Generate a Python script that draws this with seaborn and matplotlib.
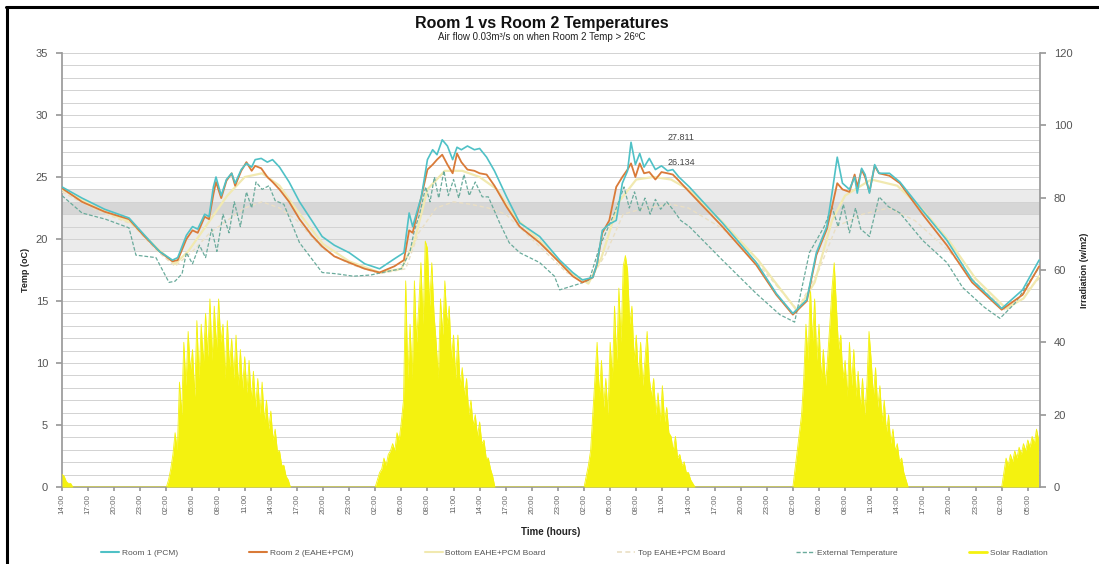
import numpy as np
import matplotlib
matplotlib.use("Agg")
import matplotlib.pyplot as plt
from matplotlib.lines import Line2D
import seaborn as sns

# ---------------- data (hours from 14:00 on day 1) ----------------
room1_t = [0, 2.3, 4.9, 7.7, 9.5, 11.2, 12.7, 13.3, 14.3, 15.0, 15.6, 16.4, 16.9, 17.4, 17.7, 18.3,
           18.9, 19.5, 19.9, 20.6, 21.2, 21.8, 22.2, 22.9, 23.6, 24.2, 25.0, 26.1, 27.3, 28.7, 29.9,
           31.3, 33.0, 34.8, 36.5, 38.2, 39.3, 39.9, 40.3, 41.3, 42.0, 42.6, 43.1, 43.7, 44.3, 44.9,
           45.4, 45.9, 46.6, 47.4, 48.0, 48.8, 49.7, 51.1, 52.6, 54.9, 57.2, 58.7, 59.8, 61.0, 61.5,
           62.1, 62.9, 63.7, 64.4, 65.0, 65.4, 65.9, 66.4, 66.9, 67.5, 68.2, 68.9, 69.6, 70.2, 70.9,
           72.1, 75.9, 79.8, 82.1, 84.0, 85.6, 86.7, 87.9, 88.5, 89.1, 89.7, 90.5, 91.1, 91.4, 91.9,
           92.3, 92.8, 93.4, 93.9, 95.1, 96.3, 98.9, 101.7, 104.6, 108.0, 110.4, 112.3]
room1_v = [24.2, 23.3, 22.4, 21.7, 20.3, 19.0, 18.3, 18.5, 20.3, 21.0, 20.8, 22.0, 21.8, 24.2, 25.0, 23.5,
           24.8, 25.3, 24.5, 25.6, 26.1, 25.8, 26.4, 26.5, 26.2, 26.4, 25.8, 24.6, 23.0, 21.5, 20.2,
           19.5, 18.9, 18.0, 17.6, 18.4, 18.9, 22.1, 21.0, 23.4, 26.4, 27.2, 26.8, 28.0, 27.5, 26.4,
           27.4, 27.2, 27.5, 27.2, 27.3, 26.6, 25.5, 23.4, 21.3, 20.2, 18.3, 17.3, 16.7, 16.9, 18.0,
           20.7, 21.2, 21.5, 24.5, 25.5, 27.8, 26.0, 26.9, 25.8, 26.5, 25.6, 25.9, 25.5, 25.6, 25.0,
           24.2, 21.3, 18.1, 15.6, 14.0, 15.1, 18.9, 21.0, 23.7, 26.6, 24.5, 24.0, 25.0, 23.7, 25.7,
           25.2, 23.7, 26.0, 25.3, 25.3, 24.6, 22.3, 19.9, 16.7, 14.4, 15.9, 18.3]

room2_t = room1_t
room2_v = [24.1, 23.0, 22.2, 21.6, 20.2, 19.0, 18.2, 18.3, 20.0, 20.7, 20.5, 21.8, 21.6, 23.6, 24.6, 23.3,
           24.7, 25.3, 24.3, 25.5, 26.2, 25.5, 25.9, 25.7, 25.0, 24.6, 24.0, 23.0, 21.6, 20.3, 19.4,
           18.6, 18.1, 17.6, 17.3, 17.8, 18.3, 20.7, 20.5, 23.4, 25.6, 26.0, 26.4, 26.8, 26.0, 25.3,
           26.9, 26.2, 25.6, 25.5, 25.3, 25.2, 24.3, 22.6, 21.0, 19.7, 18.1, 17.0, 16.5, 16.9, 18.0,
           20.5, 21.5, 24.2, 25.0, 25.6, 26.1, 25.0, 26.1, 25.3, 25.4, 24.8, 25.4, 25.3, 25.2, 24.7,
           23.8, 21.0, 17.9, 15.5, 13.9, 15.0, 18.7, 20.8, 22.6, 24.5, 24.0, 23.8, 25.2, 24.2, 25.6,
           25.0, 23.8, 25.9, 25.3, 25.1, 24.5, 22.0, 19.5, 16.5, 14.3, 15.5, 17.8]

bottom_t = [0, 4, 8, 11, 13, 14.5, 17, 19, 21, 23, 25, 27, 30, 33, 36.5, 39, 40.5, 42, 44, 46, 48, 50,
            52, 55, 58, 60.5, 62, 64, 66, 68, 70, 72, 76, 80, 84.5, 86.5, 88.5, 90, 93, 96, 99, 102,
            105, 108.5, 110.5, 112.3]
bottom_v = [24.0, 22.5, 21.3, 19.2, 18.0, 19.0, 21.5, 23.5, 25.0, 25.3, 24.3, 22.3, 19.6, 18.2, 17.3,
            17.6, 19.8, 24.0, 25.5, 25.5, 25.0, 24.0, 21.8, 19.8, 17.5, 16.4, 18.5, 23.0, 24.8, 25.0,
            24.8, 24.0, 21.3, 18.3, 14.2, 16.5, 21.5, 23.5, 24.8, 24.3, 22.3, 19.8, 16.8, 14.4, 15.2, 17.0]

top_t = [0, 4, 8, 11, 13, 15, 17, 19, 21, 23, 25, 27, 30, 33, 36.5, 39.5, 41, 43, 45, 47, 49, 51, 54,
         58, 60.5, 62.5, 64.5, 67, 70, 72, 76, 80, 84.5, 87, 89, 92, 95, 98, 102, 105, 108.5, 112.3]
top_v = [23.8, 22.3, 21.2, 19.0, 17.8, 19.0, 20.5, 21.5, 22.5, 23.0, 22.5, 21.5, 19.2, 18.0, 17.2, 17.6,
         20.5, 22.5, 23.0, 22.8, 22.5, 22.0, 20.0, 17.3, 16.5, 18.8, 22.0, 22.5, 22.8, 22.5, 20.8, 18.0,
         14.3, 17.5, 21.0, 22.0, 22.5, 21.5, 19.0, 16.5, 14.2, 16.8]

ext_t = [0, 2.3, 5, 7.7, 8.5, 10.8, 12.3, 13.0, 13.8, 14.3, 15.0, 15.8, 16.5, 17.2, 17.8, 18.5, 19.2,
         19.8, 20.5, 21.2, 21.8, 22.3, 23.0, 23.8, 24.5, 25.5, 27.3, 29.9, 31.5, 33.5, 35.5, 37.5, 39.0,
         40.0, 40.5, 41.1, 41.8, 42.3, 42.8, 43.3, 43.9, 44.4, 45.0, 45.6, 46.2, 46.8, 47.5, 48.3, 49.0,
         50.3, 51.4, 52.6, 54.9, 56.6, 57.2, 59.5, 60.6, 61.8, 63.5, 64.6, 65.2, 65.8, 66.4, 67.0, 67.6,
         68.2, 68.8, 69.5, 70.3, 71.1, 72.1, 75.9, 79.8, 82.5, 84.2, 85.9, 87.6, 88.5, 89.2, 89.8, 90.5,
         91.2, 91.8, 92.8, 93.9, 95.0, 96.3, 98.9, 101.7, 103.5, 106.0, 107.8, 109.5, 112.3]
ext_v = [23.5, 22.1, 21.6, 20.9, 18.7, 18.5, 16.5, 16.6, 17.2, 18.9, 18.0, 19.5, 18.5, 20.8, 19.0, 22.0,
         20.5, 23.0, 21.0, 23.8, 22.5, 24.6, 24.0, 24.3, 23.1, 22.8, 19.7, 17.3, 17.2, 17.0, 17.1, 17.4,
         17.6, 19.0, 20.7, 22.0, 24.2, 23.0, 25.0, 23.3, 25.5, 23.5, 24.8, 23.3, 25.2, 23.5, 24.6, 23.4,
         23.4, 21.3, 19.7, 18.9, 18.1, 17.0, 15.9, 16.4, 16.7, 19.4, 22.1, 24.2, 22.5, 23.8, 22.2, 23.3,
         22.0, 23.2, 22.4, 23.0, 22.3, 21.5, 21.0, 18.3, 15.6, 13.9, 13.3, 18.9, 21.0, 22.6, 21.0, 22.8,
         20.5, 22.5, 20.8, 20.2, 23.4, 22.6, 22.1, 19.9, 18.1, 16.1, 14.5, 13.6, 14.8, 17.7]

# Solar radiation (w/m2), quarter-hour readings; each burst starts at the given hour
solar_tail_t = [0, 0.25, 0.5, 0.75, 1.0, 1.25]
solar_tail_v = [3.5, 3.0, 1.5, 1.0, 1.0, 0]
solar_start = [12.0, 36.0, 60.0, 84.0, 108.0]
solar_day1 = [0, 2, 5, 9, 15, 10, 29, 20, 40, 28, 43, 32, 38, 25, 46, 30, 45, 34, 48, 36, 52, 35, 50, 38,
              52, 40, 45, 30, 46, 33, 41, 30, 42, 28, 38, 27, 36, 26, 35, 24, 32, 22, 30, 20, 29, 18, 24, 16,
              21, 13, 16, 10, 10, 6, 6, 3, 2, 0]
solar_day2 = [0, 2, 4, 5, 8, 6, 9, 10, 12, 10, 15, 13, 18, 24, 57, 30, 45, 30, 57, 40, 50, 62, 45, 68,
              66, 50, 62, 48, 40, 30, 52, 42, 57, 45, 50, 35, 42, 30, 42, 28, 33, 25, 30, 20, 24, 17, 20, 14,
              18, 12, 13, 8, 8, 5, 3, 0]
solar_day3 = [0, 3, 6, 10, 20, 30, 40, 25, 35, 22, 30, 20, 40, 30, 50, 35, 55, 40, 61, 64, 60, 45, 50, 35,
              42, 30, 40, 28, 35, 43, 30, 25, 30, 20, 26, 18, 28, 18, 22, 15, 14, 10, 14, 8, 9, 6, 7, 4,
              4, 2, 1, 0]
solar_day4 = [0, 5, 10, 15, 20, 30, 45, 35, 56, 40, 52, 35, 45, 30, 38, 28, 36, 45, 55, 62, 50, 38, 42, 30,
              35, 25, 40, 28, 38, 25, 32, 22, 30, 20, 28, 43, 35, 25, 33, 22, 28, 18, 24, 15, 20, 12, 16, 10,
              12, 7, 8, 4, 2, 0]
solar_day5 = [0, 4, 8, 6, 9, 7, 10, 8, 11, 9, 12, 10, 13, 11, 14, 12, 16, 13]

hour_labels = ["14:00", "17:00", "20:00", "23:00",
               "02:00", "05:00", "08:00", "11:00", "14:00", "17:00", "20:00", "23:00",
               "02:00", "05:00", "08:00", "11:00", "14:00", "17:00", "20:00", "23:00",
               "02:00", "05:00", "08:00", "11:00", "14:00", "17:00", "20:00", "23:00",
               "02:00", "05:00", "08:00", "11:00", "14:00", "17:00", "20:00", "23:00",
               "02:00", "05:00"]
peak_labels = ["27.811", "26.134"]
peak_vals = [27.811, 26.134]

# ---------------- styling ----------------
sns.set_theme(style="white")
plt.rcParams['font.family'] = ['Liberation Sans', 'DejaVu Sans']

c_room1 = "#4fc1c6"
c_room2 = "#d97a38"
c_bottom = "#f1e9b0"
c_top = "#eadfc4"
c_ext = "#6aab9c"
c_solar = "#f4f20f"
grey_txt = "#555555"
axis_col = "#9a9a9a"

fig = plt.figure(figsize=(10.99, 5.64), dpi=100)
ax = fig.add_axes([0.0564, 0.1365, 0.8899, 0.7695])
ax2 = ax.twinx()
ax3 = ax.twinx()

# background bands + grid on the left axis
ax.axhspan(19, 24, color="#ebebeb", lw=0, zorder=0)
ax.axhspan(22, 23, color="#d6d6d6", lw=0, zorder=0)
for g in range(1, 36):
    ax.axhline(g, color="#d2d2d2", lw=0.7, zorder=0.5)

# solar radiation on right axis
solar_t = list(solar_tail_t)
solar_v = list(solar_tail_v)
for st, vals in zip(solar_start, [solar_day1, solar_day2, solar_day3, solar_day4, solar_day5]):
    solar_t += [st + 0.25 * i for i in range(len(vals))]
    solar_v += vals
ax2.fill_between(solar_t, 0, solar_v, color=c_solar, lw=0, zorder=1)
ax2.plot(solar_t, solar_v, color=c_solar, lw=0.6)

# temperature lines on the third axis (same 0-35 scale)
sns.lineplot(x=top_t, y=top_v, ax=ax3, color=c_top, lw=1.0, linestyle=(0, (3, 2)), sort=False)
sns.lineplot(x=bottom_t, y=bottom_v, ax=ax3, color=c_bottom, lw=1.6, sort=False)
sns.lineplot(x=ext_t, y=ext_v, ax=ax3, color=c_ext, lw=0.9, linestyle=(0, (3, 1.5)), sort=False)
sns.lineplot(x=room2_t, y=room2_v, ax=ax3, color=c_room2, lw=1.3, sort=False)
sns.lineplot(x=room1_t, y=room1_v, ax=ax3, color=c_room1, lw=1.2, sort=False)

ax3.text(69.6, peak_vals[0], peak_labels[0], fontsize=6.5, color="#444444", va="bottom", ha="left")
ax3.text(69.6, peak_vals[1], peak_labels[1], fontsize=6.5, color="#444444", va="center", ha="left")

xmax = 112.4
for a in (ax, ax2, ax3):
    a.set_xlim(0, xmax)
ax.set_ylim(0, 35)
ax3.set_ylim(0, 35)
ax2.set_ylim(0, 120)

ax3.set_yticks([])
ax3.set_ylabel("")
for s in ax3.spines.values():
    s.set_visible(False)
ax2.spines["top"].set_visible(False)
ax2.spines["left"].set_visible(False)
ax2.spines["bottom"].set_visible(False)
ax2.spines["right"].set_color(axis_col)
ax.spines["top"].set_visible(False)
ax.spines["right"].set_visible(False)
ax.spines["left"].set_color(axis_col)
ax.spines["bottom"].set_color(axis_col)

ax.set_yticks(range(0, 36, 5))
ax.tick_params(axis="y", left=True, length=4, color=axis_col, labelsize=8, labelcolor=grey_txt, pad=6)
ax2.set_yticks(range(0, 121, 20))
ax2.tick_params(axis="y", right=True, length=4, color=axis_col, labelsize=8, labelcolor=grey_txt, pad=6)

xt = [3 * i for i in range(len(hour_labels))]
ax.set_xticks(xt)
ax.set_xticklabels(hour_labels, rotation=90, fontsize=5.8, color="#666666")
ax.tick_params(axis="x", bottom=True, length=3, color=axis_col, pad=2)

ax.set_ylabel("Temp (oC)", fontsize=6.5, fontweight="bold", color="#222222")
ax.yaxis.set_label_coords(-0.033, 0.5)
ax2.set_ylabel("Irradiation (w/m2)", fontsize=6.5, fontweight="bold", color="#222222")
ax2.yaxis.set_label_coords(1.041, 0.5)
ax.set_xlabel("Time (hours)", fontsize=7, fontweight="bold", color="#222222")
ax.xaxis.set_label_coords(0.5, -0.093)

fig.text(0.493, 0.958, "Room 1 vs Room 2 Temperatures", ha="center", va="center",
         fontsize=11.5, fontweight="bold", color="#111111")
fig.text(0.493, 0.934, "Air flow 0.03m³/s on when Room 2 Temp > 26ºC", ha="center", va="center",
         fontsize=7, color="#222222")

handles = [Line2D([], [], color=c_room1, lw=1.5),
           Line2D([], [], color=c_room2, lw=1.5),
           Line2D([], [], color=c_bottom, lw=1.5),
           Line2D([], [], color=c_top, lw=1.2, linestyle=(0, (3, 2))),
           Line2D([], [], color=c_ext, lw=1.0, linestyle=(0, (3, 1.5))),
           Line2D([], [], color=c_solar, lw=2.0)]
labels = ["Room 1 (PCM)", "Room 2 (EAHE+PCM)", "Bottom EAHE+PCM Board", "Top EAHE+PCM Board",
          "External Temperature", "Solar Radiation"]
leg = fig.legend(handles, labels, ncol=6, loc="center", bbox_to_anchor=(0.085, 0.005, 0.875, 0.03),
                 mode="expand", frameon=False, fontsize=6, handlelength=2.2, handletextpad=0.3)
for t in leg.get_texts():
    t.set_color(grey_txt)

# chart border (left and top)
fig.add_artist(Line2D([0.0064, 0.0064], [0.0, 0.9876], color="black", lw=2.2, transform=fig.transFigure))
fig.add_artist(Line2D([0.0055, 1.0], [0.9876, 0.9876], color="black", lw=2.2, transform=fig.transFigure))

fig.savefig("out.png", dpi=100)
